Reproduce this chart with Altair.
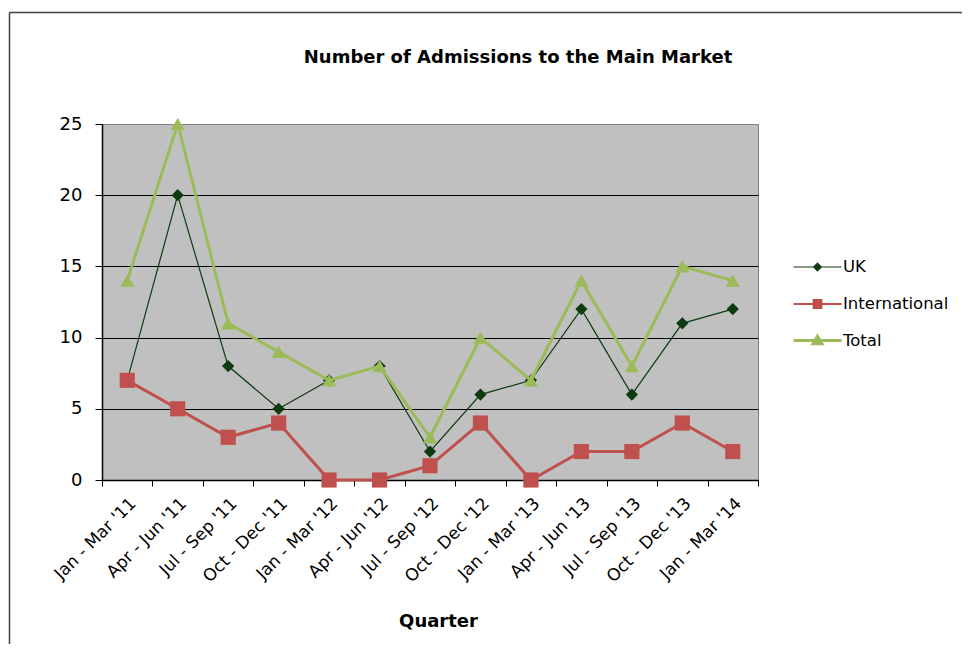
import altair as alt
import pandas as pd

quarters = ["Jan - Mar '11", "Apr - Jun '11", "Jul - Sep '11", "Oct - Dec '11",
            "Jan - Mar '12", "Apr - Jun '12", "Jul - Sep '12", "Oct - Dec '12",
            "Jan - Mar '13", "Apr - Jun '13", "Jul - Sep '13", "Oct - Dec '13",
            "Jan - Mar '14"]
uk = [7, 20, 8, 5, 7, 8, 2, 6, 7, 12, 6, 11, 12]
international = [7, 5, 3, 4, 0, 0, 1, 4, 0, 2, 2, 4, 2]
total = [14, 25, 11, 9, 7, 8, 3, 10, 7, 14, 8, 15, 14]
series = ["UK", "International", "Total"]
y_ticks = [0, 5, 10, 15, 20, 25]

colors = ["#0E3A10", "#C0504D", "#9BBB59"]
shapes = ["diamond", "square", "triangle-up"]
line_widths = [1.2, 3, 3]
marker_sizes = [150, 230, 200]

# legend symbols: line segment + marker
legend_paths = [
    "M-1,0L1,0M0,-0.16L0.16,0L0,0.16L-0.16,0Z",
    "M-1,0L1,0M-0.16,-0.16L0.16,-0.16L0.16,0.16L-0.16,0.16Z",
    "M-1,0L1,0M0,-0.18L0.19,0.14L-0.19,0.14Z",
]

values = {"UK": uk, "International": international, "Total": total}
rows = []
for s in series:
    for q, v in zip(quarters, values[s]):
        rows.append({"Quarter": q, "Series": s, "Value": v})
df = pd.DataFrame(rows)

FONT = "DejaVu Sans"

x_enc = alt.X(
    "Quarter:N", sort=quarters,
    scale=alt.Scale(type="band", paddingInner=0, paddingOuter=0),
    axis=alt.Axis(
        title="Quarter", titleFont=FONT, titleFontSize=18, titleFontWeight="bold",
        titleColor="black", titlePadding=28, titleX=336,
        labelAngle=315, labelFont=FONT, labelFontSize=17, labelColor="black",
        labelPadding=9, tickBand="extent", tickSize=6, tickColor="black",
        domainColor="black", domainWidth=1.5, grid=False,
    ),
)
y_enc = alt.Y(
    "Value:Q",
    scale=alt.Scale(domain=[0, 25], nice=False),
    axis=alt.Axis(
        values=y_ticks, title=None, grid=True,
        gridColor={"condition": {"test": "datum.value === 25", "value": "#808080"}, "value": "black"},
        gridWidth=1, domainColor="black", domainWidth=1.5, tickColor="black",
        tickSize=7, labelPadding=13, labelFont=FONT, labelFontSize=18, labelColor="black",
    ),
)

legend = alt.Legend(
    title=None, orient="none", legendX=690, legendY=118,
    symbolSize=2304, labelFont=FONT, labelFontSize=16.5, labelColor="black",
    labelOffset=0, rowPadding=2.5, symbolOpacity=1,
)

layers = []
for i, s in enumerate(series):
    base = alt.Chart(df).transform_filter(alt.datum.Series == s)
    line = base.mark_line(strokeWidth=line_widths[i], color=colors[i]).encode(x=x_enc, y=y_enc)
    pts = base.mark_point(filled=True, opacity=1, size=marker_sizes[i], shape=shapes[i],
                          color=colors[i]).encode(x=x_enc, y=y_enc)
    layers += [line, pts]

# legend-only layer (invisible marks; supplies the merged legend)
legend_layer = alt.Chart(df).mark_point(opacity=0, size=1).encode(
    x=x_enc, y=y_enc,
    fill=alt.Fill("Series:N", scale=alt.Scale(domain=series, range=colors), legend=legend),
    stroke=alt.Stroke("Series:N", scale=alt.Scale(domain=series, range=colors), legend=legend),
    shape=alt.Shape("Series:N", scale=alt.Scale(domain=series, range=legend_paths), legend=legend),
    strokeWidth=alt.StrokeWidth("Series:N", scale=alt.Scale(domain=series, range=line_widths), legend=legend),
)

frame = pd.DataFrame({"k": [0]})
border_left = alt.Chart(frame).mark_rule(color="#404040", strokeWidth=1.5).encode(
    x=alt.value(-92.5), y=alt.value(-111.5), y2=alt.value(520))
border_top = alt.Chart(frame).mark_rule(color="#404040", strokeWidth=1.5).encode(
    x=alt.value(-92.5), x2=alt.value(860), y=alt.value(-111.5))

chart = alt.layer(border_left, border_top, *layers, legend_layer).properties(
    width=656, height=356,
    padding={"left": 0, "top": 3, "right": 0, "bottom": 0},
    background="white",
    title=alt.TitleParams(
        "Number of Admissions to the Main Market", font=FONT, fontSize=18,
        fontWeight="bold", color="black", anchor="middle", frame="group",
        dx=88, offset=-55,
    ),
).configure_view(fill="#C0C0C0", stroke="#808080")

chart.save("out.html", embed_options={"renderer": "svg", "actions": False})
